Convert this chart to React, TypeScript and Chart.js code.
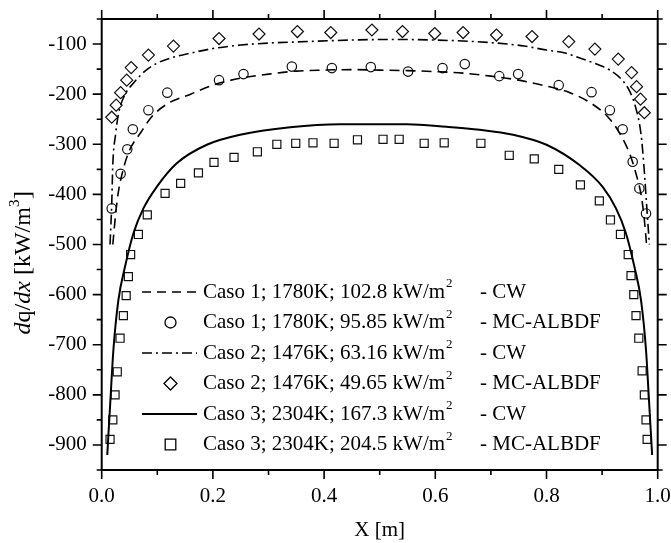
import React, { useEffect, useRef } from 'react';
import { Chart, registerables } from 'chart.js';

Chart.register(...registerables);

const W = 671;
const H = 543;

// ---- Data ----
// Caso 1 CW (dashed)
const caso1CwX = [0.02, 0.025, 0.03, 0.04, 0.05, 0.07, 0.09, 0.12, 0.16, 0.2, 0.25, 0.3, 0.35, 0.4, 0.45, 0.5, 0.55, 0.6, 0.65, 0.7, 0.75, 0.8, 0.84, 0.88, 0.91, 0.93, 0.95, 0.96, 0.97, 0.975, 0.98];
const caso1CwY = [-500, -440, -395, -345, -312, -277, -245, -218, -200, -182, -168, -160, -154, -152, -151, -152, -153, -155, -158, -164, -172, -184, -196, -218, -245, -275, -320, -355, -400, -440, -500];
// Caso 1 MC-ALBDF (circles)
const caso1McX = [0.018, 0.034, 0.046, 0.056, 0.084, 0.118, 0.211, 0.255, 0.342, 0.414, 0.484, 0.551, 0.613, 0.653, 0.715, 0.749, 0.822, 0.881, 0.914, 0.937, 0.955, 0.967, 0.979];
const caso1McY = [-428, -359, -310, -270, -232, -197, -172, -160, -145, -148, -146, -155, -148, -140, -164, -160, -182, -196, -232, -270, -335, -388, -438];
// Caso 2 CW (dash-dot)
const caso2CwX = [0.015, 0.018, 0.02, 0.025, 0.03, 0.04, 0.057, 0.08, 0.1, 0.13, 0.16, 0.2, 0.25, 0.3, 0.37, 0.45, 0.5, 0.55, 0.6, 0.65, 0.71, 0.76, 0.8, 0.83, 0.86, 0.89, 0.914, 0.936, 0.95, 0.96, 0.97, 0.975, 0.98, 0.985];
const caso2CwY = [-500, -420, -340, -280, -240, -205, -178, -152, -138, -126, -118, -109, -102, -98, -95, -92, -91, -91, -92, -94, -98, -104, -112, -117, -128, -140, -152, -172, -195, -225, -280, -340, -420, -500];
// Caso 2 MC-ALBDF (diamonds)
const caso2McX = [0.018, 0.026, 0.034, 0.045, 0.053, 0.084, 0.129, 0.211, 0.283, 0.352, 0.412, 0.486, 0.541, 0.599, 0.65, 0.71, 0.774, 0.84, 0.887, 0.929, 0.953, 0.962, 0.969, 0.976];
const caso2McY = [-246, -222, -197, -172, -147, -122, -104, -89, -80, -75, -77, -72, -75, -79, -77, -82, -85, -95, -110, -130, -157, -185, -210, -237];
// Caso 3 CW (solid)
const caso3CwX = [0.01, 0.016, 0.021, 0.03, 0.042, 0.057, 0.075, 0.099, 0.135, 0.189, 0.249, 0.339, 0.429, 0.5, 0.549, 0.62, 0.68, 0.74, 0.8, 0.86, 0.901, 0.925, 0.943, 0.958, 0.97, 0.979, 0.984, 0.99];
const caso3CwY = [-920, -804, -711, -611, -544, -478, -428, -385, -338, -301, -281, -266, -260, -260, -260, -265, -271, -281, -301, -342, -385, -428, -478, -544, -611, -711, -804, -920];
// Caso 3 MC-ALBDF (squares)
const caso3McX = [0.015, 0.02, 0.024, 0.028, 0.033, 0.039, 0.044, 0.048, 0.052, 0.066, 0.082, 0.114, 0.142, 0.174, 0.202, 0.238, 0.28, 0.315, 0.349, 0.38, 0.418, 0.46, 0.506, 0.535, 0.58, 0.616, 0.682, 0.733, 0.778, 0.822, 0.861, 0.895, 0.915, 0.933, 0.947, 0.952, 0.957, 0.961, 0.966, 0.972, 0.976, 0.979, 0.981];
const caso3McY = [-889, -850, -800, -754, -687, -642, -602, -564, -520, -480, -441, -398, -378, -357, -336, -326, -315, -300, -298, -297, -298, -291, -290, -290, -298, -297, -298, -322, -329, -350, -381, -413, -451, -480, -520, -562, -600, -642, -687, -752, -800, -850, -889];

const xTicks = [0, 0.2, 0.4, 0.6, 0.8, 1.0];
const yTicks = [-900, -800, -700, -600, -500, -400, -300, -200, -100];

const legendLabels = [
  'Caso 1; 1780K; 102.8 kW/m',
  'Caso 1; 1780K; 95.85 kW/m',
  'Caso 2; 1476K; 63.16 kW/m',
  'Caso 2; 1476K; 49.65 kW/m',
  'Caso 3; 2304K; 167.3 kW/m',
  'Caso 3; 2304K; 204.5 kW/m',
];
const legendMethods = ['- CW', '- MC-ALBDF', '- CW', '- MC-ALBDF', '- CW', '- MC-ALBDF'];

const FONT = '"Liberation Serif", "Times New Roman", serif';

const pts = (xs: number[], ys: number[]) => xs.map((x, i) => ({ x, y: ys[i] }));

// layout constants
const AREA_LEFT = 101.7;
const AREA_RIGHT = 657.7;
const AREA_TOP = 19;
const AREA_BOTTOM = 470;

type Sample = { kind: 'line'; dash: number[]; width: number } | { kind: 'marker'; shape: 'circle' | 'diamond' | 'square' };

const legendSamples: Sample[] = [
  { kind: 'line', dash: [9, 6], width: 1.5 },
  { kind: 'marker', shape: 'circle' },
  { kind: 'line', dash: [10, 4, 2, 4], width: 1.5 },
  { kind: 'marker', shape: 'diamond' },
  { kind: 'line', dash: [], width: 2 },
  { kind: 'marker', shape: 'square' },
];

function drawMarker(ctx: CanvasRenderingContext2D, shape: string, x: number, y: number, s: number) {
  ctx.beginPath();
  if (shape === 'circle') {
    ctx.arc(x, y, s, 0, Math.PI * 2);
  } else if (shape === 'diamond') {
    ctx.moveTo(x - s, y);
    ctx.lineTo(x, y - s);
    ctx.lineTo(x + s, y);
    ctx.lineTo(x, y + s);
    ctx.closePath();
  } else {
    ctx.rect(x - s, y - s, 2 * s, 2 * s);
  }
  ctx.stroke();
}

const framePlugin = {
  id: 'frameTicks',
  afterDraw(chart: any) {
    const ctx: CanvasRenderingContext2D = chart.ctx;
    const { left, right, top, bottom } = chart.chartArea;
    const xs = chart.scales.x;
    const ys = chart.scales.y;
    ctx.save();
    ctx.strokeStyle = '#000';
    ctx.lineWidth = 2;
    ctx.setLineDash([]);
    ctx.strokeRect(left, top, right - left, bottom - top);
    ctx.lineWidth = 1.6;
    const MAJ = 9;
    const MIN = 5;
    for (let i = 0; i <= 10; i++) {
      const v = i / 10;
      const px = xs.getPixelForValue(v);
      const len = i % 2 === 0 ? MAJ : MIN;
      ctx.beginPath();
      ctx.moveTo(px, bottom);
      ctx.lineTo(px, bottom + len);
      ctx.moveTo(px, top);
      ctx.lineTo(px, top - len);
      ctx.stroke();
    }
    for (let v = -950; v <= -50; v += 50) {
      const py = ys.getPixelForValue(v);
      const len = v % 100 === 0 ? MAJ : MIN;
      ctx.beginPath();
      ctx.moveTo(left, py);
      ctx.lineTo(left - len, py);
      ctx.moveTo(right, py);
      ctx.lineTo(right + len, py);
      ctx.stroke();
    }

    // axis titles
    ctx.fillStyle = '#000';
    ctx.textBaseline = 'middle';
    ctx.textAlign = 'center';
    ctx.font = `21px ${FONT}`;
    ctx.fillText('X [m]', (left + right) / 2, 530);

    // y title with mixed styles
    const parts: { t: string; f: string; dy: number }[] = [
      { t: 'd', f: `italic 24px ${FONT}`, dy: 0 },
      { t: 'q/', f: `24px ${FONT}`, dy: 0 },
      { t: 'dx', f: `italic 24px ${FONT}`, dy: 0 },
      { t: ' [kW/m', f: `24px ${FONT}`, dy: 0 },
      { t: '3', f: `15px ${FONT}`, dy: -9 },
      { t: ']', f: `24px ${FONT}`, dy: 0 },
    ];
    let total = 0;
    const widths = parts.map((p) => {
      ctx.font = p.f;
      const w = ctx.measureText(p.t).width;
      total += w;
      return w;
    });
    ctx.save();
    ctx.translate(24, 263);
    ctx.rotate(-Math.PI / 2);
    ctx.textAlign = 'left';
    let cx = -total / 2;
    parts.forEach((p, i) => {
      ctx.font = p.f;
      ctx.fillText(p.t, cx, p.dy);
      cx += widths[i] + (p.t === '3' ? 0.5 : 0);
    });
    ctx.restore();

    // legend
    const rowY0 = 292;
    const dy = 30.5;
    legendLabels.forEach((label, i) => {
      const y = rowY0 + i * dy;
      const s = legendSamples[i];
      ctx.strokeStyle = '#000';
      if (s.kind === 'line') {
        ctx.lineWidth = s.width;
        ctx.setLineDash(s.dash);
        ctx.beginPath();
        ctx.moveTo(142, y);
        ctx.lineTo(197, y);
        ctx.stroke();
        ctx.setLineDash([]);
      } else {
        ctx.lineWidth = 1.3;
        const size = s.shape === 'circle' ? 5.5 : s.shape === 'diamond' ? 6.5 : 5.3;
        drawMarker(ctx, s.shape, 170.5, y, size);
      }
      ctx.textAlign = 'left';
      ctx.font = `21px ${FONT}`;
      ctx.fillText(label, 203, y);
      const w = ctx.measureText(label).width;
      ctx.font = `13px ${FONT}`;
      ctx.fillText('2', 203 + w + 1, y - 8);
      ctx.font = `21px ${FONT}`;
      ctx.fillText(legendMethods[i], 480, y);
    });
    ctx.restore();
  },
};

export default function App() {
  const ref = useRef<HTMLCanvasElement | null>(null);
  useEffect(() => {
    if (!ref.current) return;
    const markerBase = {
      type: 'scatter' as const,
      showLine: false,
      pointBackgroundColor: 'rgba(0,0,0,0)',
      pointBorderColor: '#111',
      pointBorderWidth: 1.2,
      borderColor: '#111',
    };
    const lineBase = {
      type: 'line' as const,
      borderColor: '#000',
      pointRadius: 0,
      fill: false,
      cubicInterpolationMode: 'monotone' as const,
    };
    const chart = new Chart(ref.current, {
      type: 'line',
      data: {
        datasets: [
          { ...lineBase, label: 'c1cw', data: pts(caso1CwX, caso1CwY), borderWidth: 1.6, borderDash: [10, 6] },
          { ...markerBase, label: 'c1mc', data: pts(caso1McX, caso1McY), pointStyle: 'circle', pointRadius: 4.7 },
          { ...lineBase, label: 'c2cw', data: pts(caso2CwX, caso2CwY), borderWidth: 1.6, borderDash: [10, 4, 2, 4] },
          { ...markerBase, label: 'c2mc', data: pts(caso2McX, caso2McY), pointStyle: 'rectRot', pointRadius: 6 },
          { ...lineBase, label: 'c3cw', data: pts(caso3CwX, caso3CwY), borderWidth: 2 },
          { ...markerBase, label: 'c3mc', data: pts(caso3McX, caso3McY), pointStyle: 'rect', pointRadius: 5.7 },
        ] as any,
      },
      options: {
        animation: false,
        responsive: false,
        devicePixelRatio: 1,
        layout: { padding: { top: AREA_TOP, right: W - AREA_RIGHT, left: 0, bottom: 0 } },
        plugins: { legend: { display: false }, tooltip: { enabled: false }, title: { display: false } },
        scales: {
          x: {
            type: 'linear',
            position: 'bottom',
            min: 0,
            max: 1,
            grid: { display: false, drawTicks: false },
            border: { display: false },
            title: { display: false },
            ticks: {
              font: { family: FONT, size: 21 },
              color: '#000',
              padding: 14,
              maxRotation: 0,
              autoSkip: false,
              callback: (v: any) => Number(v).toFixed(1),
            },
            afterBuildTicks: (s: any) => {
              s.ticks = xTicks.map((v) => ({ value: v }));
            },
            afterFit: (s: any) => {
              s.height = H - AREA_BOTTOM;
              s.paddingLeft = 0;
              s.paddingRight = 0;
            },
          },
          y: {
            type: 'linear',
            position: 'left',
            min: -950,
            max: -50,
            grid: { display: false, drawTicks: false },
            border: { display: false },
            title: { display: false },
            ticks: {
              font: { family: FONT, size: 21 },
              color: '#000',
              padding: 15,
              autoSkip: false,
              callback: (v: any) => String(v),
            },
            afterBuildTicks: (s: any) => {
              s.ticks = yTicks.map((v) => ({ value: v }));
            },
            afterFit: (s: any) => {
              s.width = AREA_LEFT;
              s.paddingTop = 0;
              s.paddingBottom = 0;
            },
          },
        },
      } as any,
      plugins: [framePlugin],
    });
    return () => chart.destroy();
  }, []);
  return (
    <div style={{ position: 'fixed', left: 0, top: 0, width: W, height: H, background: '#fff' }}>
      <canvas ref={ref} width={W} height={H} style={{ width: W, height: H, display: 'block' }} />
    </div>
  );
}
